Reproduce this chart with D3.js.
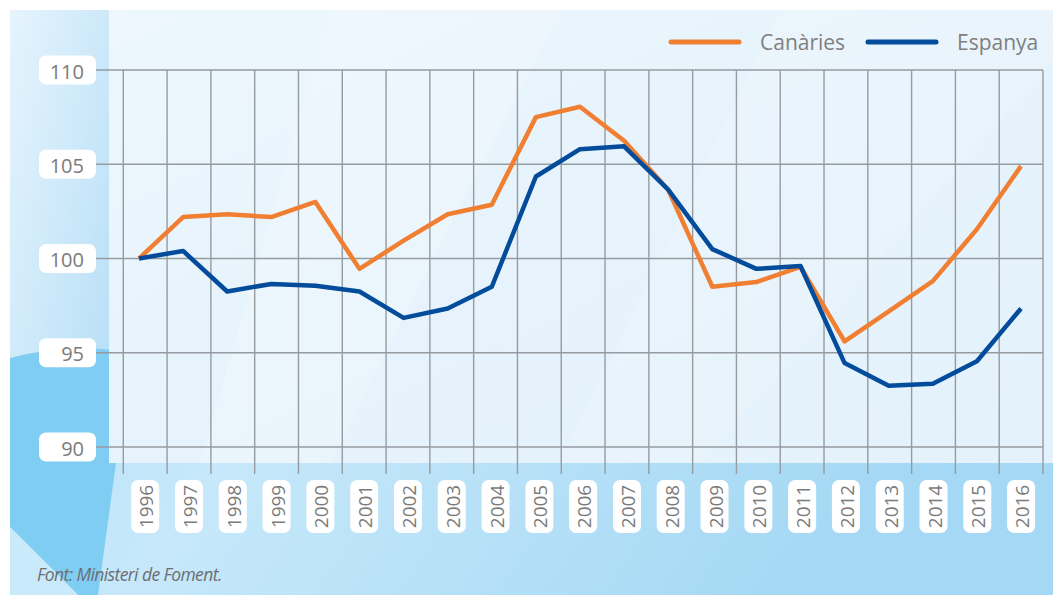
<!DOCTYPE html>
<html>
<head>
<meta charset="utf-8">
<script src="https://cdn.jsdelivr.net/npm/d3@7"></script>
<style>
  body { margin: 0; background: #fff; }
  text { font-family: "Open Sans", sans-serif; }
</style>
</head>
<body>
<script>
// data
const years = [1996, 1997, 1998, 1999, 2000, 2001, 2002, 2003, 2004, 2005, 2006,
               2007, 2008, 2009, 2010, 2011, 2012, 2013, 2014, 2015, 2016]
const canaries = [100, 102.2, 102.35, 102.2, 103.0, 99.45, 100.95, 102.35, 102.85, 107.5, 108.05,
                  106.25, 103.65, 98.5, 98.75, 99.55, 95.6, 97.2, 98.8, 101.55, 104.9]
const espanya = [100, 100.4, 98.25, 98.65, 98.55, 98.25, 96.85, 97.35, 98.5, 104.35, 105.8,
                 105.95, 103.65, 100.5, 99.45, 99.6, 94.45, 93.25, 93.35, 94.55, 97.35]
const yTicks = [90, 95, 100, 105, 110]
const seriesNames = ["Canàries", "Espanya"]
const colors = ["#f07f32", "#034c9b"]

const width = 1053, height = 595

const yScale = d3.scaleLinear().domain([90, 110]).range([447, 70])
// grid columns / year labels
const xBand = d3.scaleBand().domain(years).range([123.3, 1043]).padding(0)
// line points
const xScale = d3.scaleLinear().domain([1996, 2016]).range([139, 1021])

const svg = d3.select("body").append("svg")
  .attr("width", width)
  .attr("height", height)

const defs = svg.append("defs")
function grad(id, x1, y1, x2, y2, stops) {
  const g = defs.append("linearGradient").attr("id", id)
    .attr("x1", x1).attr("y1", y1).attr("x2", x2).attr("y2", y2)
  stops.forEach(s => g.append("stop").attr("offset", s[0]).attr("stop-color", s[1]))
}
grad("gBottom", 0, 0, 1, 0.4, [[0, "#b4dff7"], [0.45, "#c6e8fa"], [1, "#a4d8f4"]])
grad("gLeft", 0, 0, 1, 1, [[0, "#e6f4fd"], [1, "#b3ddf6"]])
grad("gPlot", 0, 0, 1, 1, [[0, "#edf7fd"], [0.5, "#e6f3fc"], [1, "#e4f2fb"]])

// background panels
svg.append("rect").attr("x", 10).attr("y", 10).attr("width", width - 10).attr("height", height - 10)
  .attr("fill", "url(#gBottom)")
svg.append("rect").attr("x", 10).attr("y", 10).attr("width", 99).attr("height", 453)
  .attr("fill", "url(#gLeft)")
svg.append("path")
  .attr("d", "M10,358 Q60,345 112,350 L116,463 L98,595 L78,595 L10,527 Z")
  .attr("fill", "#80cdf3")
svg.append("path")
  .attr("d", "M10,527 L78,595 L10,595 Z")
  .attr("fill", "#c9eafb")
svg.append("rect").attr("x", 109).attr("y", 10).attr("width", width - 109).attr("height", 453)
  .attr("fill", "url(#gPlot)")
// soft diagonal highlights
svg.append("path").attr("d", "M330,10 L560,10 L330,463 L200,463 Z")
  .attr("fill", "#ffffff").attr("opacity", 0.18)
svg.append("path").attr("d", "M780,10 L1053,10 L1053,60 L700,463 L560,463 Z")
  .attr("fill", "#ffffff").attr("opacity", 0.12)

// grid
const grid = svg.append("g").attr("stroke", "#969ba0").attr("stroke-width", 1.4)
grid.selectAll(".h").data(yTicks).enter().append("line")
  .attr("x1", 96).attr("x2", 1043)
  .attr("y1", d => yScale(d)).attr("y2", d => yScale(d))
const vLines = years.map(y => xBand(y)).concat([xBand(2016) + xBand.bandwidth()])
grid.selectAll(".v").data(vLines).enter().append("line")
  .attr("x1", d => d).attr("x2", d => d)
  .attr("y1", yScale(110)).attr("y2", 474)

// y labels
const yLab = svg.append("g")
yLab.selectAll("rect").data(yTicks).enter().append("rect")
  .attr("x", 39).attr("y", d => yScale(d) - 14.5)
  .attr("width", 57).attr("height", 29).attr("rx", 7)
  .attr("fill", "#fff")
yLab.selectAll("text").data(yTicks).enter().append("text")
  .attr("x", 84).attr("y", d => yScale(d) + 1)
  .attr("text-anchor", "end").attr("dominant-baseline", "central")
  .attr("font-size", 20).attr("fill", "#7b7b7b")
  .text(d => d)

// x labels
const xLab = svg.append("g")
xLab.selectAll("rect").data(years).enter().append("rect")
  .attr("x", d => xBand(d) + xBand.bandwidth() / 2 - 14)
  .attr("y", 480).attr("width", 28).attr("height", 53).attr("rx", 7)
  .attr("fill", "#fff")
xLab.selectAll("text").data(years).enter().append("text")
  .attr("transform", d => `translate(${xBand(d) + xBand.bandwidth() / 2 + 1},506.5) rotate(-90)`)
  .attr("text-anchor", "middle").attr("dominant-baseline", "central")
  .attr("font-size", 19).attr("fill", "#7b7b7b")
  .text(d => d)

// lines
const line = d3.line().x((d, i) => xScale(years[i])).y(d => yScale(d))
;[canaries, espanya].forEach((s, i) => {
  svg.append("path")
    .attr("d", line(s))
    .attr("fill", "none")
    .attr("stroke", colors[i])
    .attr("stroke-width", 4.5)
    .attr("stroke-linejoin", "round")
})

// legend
const legendX = [669, 866]
const legend = svg.append("g")
seriesNames.forEach((n, i) => {
  legend.append("line")
    .attr("x1", legendX[i] + 2).attr("x2", legendX[i] + 70)
    .attr("y1", 42).attr("y2", 42)
    .attr("stroke", colors[i]).attr("stroke-width", 5).attr("stroke-linecap", "round")
  legend.append("text")
    .attr("x", legendX[i] + 91).attr("y", 49.5)
    .attr("font-size", 21).attr("fill", "#7f7f7f")
    .text(n)
})

// source
svg.append("text")
  .attr("x", 37).attr("y", 581)
  .attr("font-size", 17.5).attr("font-style", "italic")
  .attr("letter-spacing", -0.6)
  .attr("fill", "#6b6e72")
  .text("Font: Ministeri de Foment.")
</script>
</body>
</html>
